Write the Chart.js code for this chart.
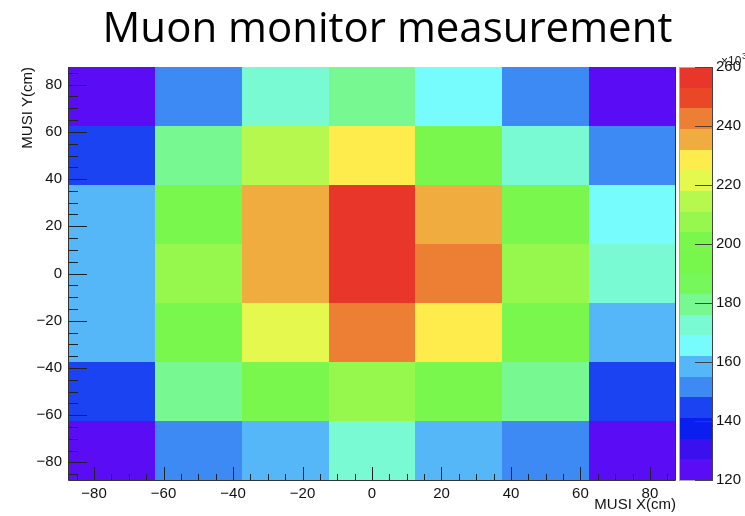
<!DOCTYPE html>
<html>
<head>
<meta charset="utf-8">
<script src="https://cdn.jsdelivr.net/npm/chart.js@4.4.1/dist/chart.umd.min.js"></script>
<style>
  html, body { margin: 0; padding: 0; background: #fff; }
  #wrap { position: relative; width: 745px; height: 516px; overflow: hidden; }
  #title {
    position: absolute; left: 30px; top: 1px; width: 715px;
    text-align: center; font-family: "Open Sans", Lato, sans-serif;
    font-size: 42px; line-height: 50px; color: #000;
  }
  canvas { position: absolute; left: 0; top: 0; }
</style>
</head>
<body>
<div id="wrap">
  <canvas id="muonChart" width="745" height="516"></canvas>
  <div id="title">Muon monitor measurement</div>
</div>
<script>
// bin centres (cm), bins are 25 cm wide
const xCenters = [-75, -50, -25, 0, 25, 50, 75];
const yCenters = [75, 50, 25, 0, -25, -50, -75];
const binWidth = 25;

// counts per bin, in units of 10^3, one array per Y row (top to bottom)
const rowY75  = [123, 151, 172, 179, 165, 151, 123];
const rowY50  = [144, 179, 214, 228, 197, 172, 151];
const rowY25  = [158, 197, 235, 256, 235, 197, 165];
const rowY0   = [158, 207, 235, 256, 242, 207, 172];
const rowYm25 = [158, 197, 221, 242, 228, 197, 158];
const rowYm50 = [144, 179, 197, 207, 197, 179, 144];
const rowYm75 = [123, 151, 158, 172, 158, 151, 123];
const rows = [rowY75, rowY50, rowY25, rowY0, rowYm25, rowYm50, rowYm75];

const axisTicks = [-80, -60, -40, -20, 0, 20, 40, 60, 80];
const zTicks = [120, 140, 160, 180, 200, 220, 240, 260];
const zMin = 120, zMax = 260;

// 20 colour levels, lowest first
const palette = [
  '#5a0cf5', '#3b10ef', '#0a1ef0', '#1b43f2', '#3d8af5',
  '#55b7f8', '#76fcfc', '#7afad2', '#78f890', '#76f75a',
  '#77f74c', '#7af74c', '#96f74c', '#b6f84d', '#e5f84d',
  '#feec4d', '#f0ac3f', '#ec7f33', '#ea4726', '#e8372a'
];
const zStep = (zMax - zMin) / palette.length;

function colorFor(v) {
  let i = Math.floor((v - zMin) / zStep);
  i = Math.max(0, Math.min(palette.length - 1, i));
  return palette[i];
}

const cells = [];
rows.forEach((row, j) => {
  row.forEach((v, i) => cells.push({ x: xCenters[i], y: yCenters[j], v: v }));
});

const fontFamily = '"Liberation Sans", Arial, sans-serif';
const minusFmt = v => (v < 0 ? '\u2212' + Math.abs(v) : String(v));

const heatmapPlugin = {
  id: 'heatmap',
  beforeDatasetsDraw(chart) {
    const ctx = chart.ctx;
    const { x, y, z } = chart.scales;
    const area = chart.chartArea;
    ctx.save();
    chart.data.datasets[0].data.forEach(p => {
      const l = Math.round(x.getPixelForValue(p.x - binWidth / 2));
      const r = Math.round(x.getPixelForValue(p.x + binWidth / 2));
      const t = Math.round(y.getPixelForValue(p.y + binWidth / 2));
      const b = Math.round(y.getPixelForValue(p.y - binWidth / 2));
      ctx.fillStyle = colorFor(p.v);
      ctx.fillRect(l, t, r - l, b - t);
    });
    // colour bar
    const cl = area.right + 3, cr = area.right + 37;
    palette.forEach((c, i) => {
      const t = Math.round(z.getPixelForValue(zMin + (i + 1) * zStep));
      const b = Math.round(z.getPixelForValue(zMin + i * zStep));
      ctx.fillStyle = c;
      ctx.fillRect(cl, t, cr - cl, b - t);
    });
    ctx.restore();
  },
  afterDraw(chart) {
    const ctx = chart.ctx;
    const { x, y, z } = chart.scales;
    const area = chart.chartArea;
    ctx.save();
    ctx.strokeStyle = '#222';
    ctx.lineWidth = 1;
    ctx.beginPath();
    // y axis ticks, drawn inwards
    for (let v = -85; v <= 85; v += 5) {
      const py = Math.round(y.getPixelForValue(v)) + 0.5;
      const len = v % 20 === 0 ? 19 : 10;
      ctx.moveTo(area.left, py);
      ctx.lineTo(area.left + len, py);
    }
    // x axis ticks, drawn inwards
    for (let v = -85; v <= 85; v += 5) {
      const px = Math.round(x.getPixelForValue(v)) + 0.5;
      const len = v % 20 === 0 ? 13 : 6;
      ctx.moveTo(px, area.bottom);
      ctx.lineTo(px, area.bottom - len);
    }
    ctx.stroke();
    // frame
    ctx.strokeStyle = '#333';
    ctx.beginPath();
    ctx.moveTo(area.left + 0.5, area.top);
    ctx.lineTo(area.left + 0.5, area.bottom + 0.5);
    ctx.lineTo(area.right - 0.5, area.bottom + 0.5);
    ctx.lineTo(area.right - 0.5, area.top);
    ctx.stroke();
    // colour bar outline and ticks
    const cl = area.right + 3, cr = area.right + 37;
    ctx.strokeStyle = '#aaa';
    ctx.strokeRect(cl + 0.5, area.top + 0.5, cr - cl - 1, area.bottom - area.top);
    ctx.strokeStyle = '#444';
    ctx.beginPath();
    ctx.moveTo(cr - 0.5, area.top);
    ctx.lineTo(cr - 0.5, area.bottom + 1);
    zTicks.forEach(v => {
      const py = Math.round(z.getPixelForValue(v)) + 0.5;
      ctx.moveTo(cr, py);
      ctx.lineTo(cr - 18, py);
    });
    ctx.stroke();
    // exponent label
    ctx.fillStyle = '#222';
    ctx.font = '12px ' + fontFamily;
    ctx.textBaseline = 'alphabetic';
    ctx.fillText('\u00d710', cr + 8, area.top - 2);
    ctx.font = '9px ' + fontFamily;
    ctx.fillText('3', cr + 29, area.top - 8);
    ctx.restore();
  }
};

const fixTicks = list => scale => { scale.ticks = list.map(v => ({ value: v })); };
const fitVertical = w => s => { s.width = w; s.paddingTop = 0; s.paddingBottom = 0; };

new Chart(document.getElementById('muonChart'), {
  type: 'scatter',
  data: {
    datasets: [{
      label: 'Muon counts',
      data: cells,
      pointRadius: 0,
      pointHoverRadius: 0
    }]
  },
  options: {
    responsive: false,
    animation: false,
    events: [],
    layout: { padding: { top: 67, left: 0, right: 0, bottom: 0 } },
    plugins: { legend: { display: false }, tooltip: { enabled: false } },
    scales: {
      x: {
        type: 'linear', position: 'bottom', min: -87.5, max: 87.5,
        grid: { display: false, drawTicks: false },
        border: { display: false },
        afterBuildTicks: fixTicks(axisTicks),
        afterFit: s => { s.height = 36; s.paddingLeft = 0; s.paddingRight = 0; },
        ticks: { padding: 5, color: '#111', font: { size: 15, family: fontFamily }, callback: minusFmt, maxRotation: 0 },
        title: { display: true, text: 'MUSI X(cm)', align: 'end', color: '#111', font: { size: 15, family: fontFamily }, padding: { top: 0, bottom: 2 } }
      },
      y: {
        type: 'linear', position: 'left', min: -87.5, max: 87.5,
        grid: { display: false, drawTicks: false },
        border: { display: false },
        afterBuildTicks: fixTicks(axisTicks),
        afterFit: fitVertical(68),
        ticks: { padding: 6, color: '#111', font: { size: 15, family: fontFamily }, callback: minusFmt },
        title: { display: true, text: 'MUSI Y(cm)', align: 'end', color: '#111', font: { size: 15, family: fontFamily }, padding: { top: 19, bottom: 0 } }
      },
      z: {
        type: 'linear', position: 'right', min: zMin, max: zMax,
        grid: { display: false, drawTicks: false },
        border: { display: false },
        afterBuildTicks: fixTicks(zTicks),
        afterFit: fitVertical(69),
        ticks: { padding: 40, color: '#111', font: { size: 15, family: fontFamily } }
      }
    }
  },
  plugins: [heatmapPlugin]
});
</script>
</body>
</html>
